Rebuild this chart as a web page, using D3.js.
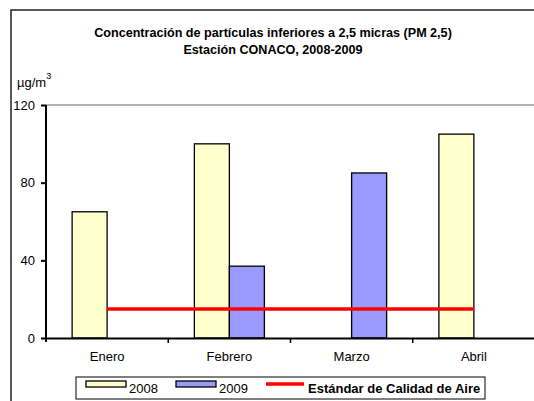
<!DOCTYPE html>
<html>
<head>
  <meta charset="utf-8">
  <script src="https://d3js.org/d3.v7.min.js"></script>
  <style>
    body { margin: 0; background: #fff; font-family: 'Liberation Sans', Arial, sans-serif; }
  </style>
</head>
<body>
  <div id="my_dataviz"></div>
  <script>
    // data
    var months = ["Enero", "Febrero", "Marzo", "Abril"];
    var series = ["2008", "2009"];
    var values2008 = [65, 100, null, 105];
    var values2009 = [null, 37, 85, null];
    var standard = [15, 15, 15, 15];
    var yTicks = [0, 40, 80, 120];
    var colors = { "2008": "#FFFFCC", "2009": "#9999FF" };

    var width = 534, height = 401;
    var plot = { left: 46, right: 535, top: 105, bottom: 338 };

    var svg = d3.select("#my_dataviz")
      .append("svg")
      .attr("width", width)
      .attr("height", height);

    // outer chart border
    svg.append("rect")
      .attr("x", 11).attr("y", 10)
      .attr("width", 600).attr("height", 500)
      .attr("fill", "none")
      .attr("stroke", "#222")
      .attr("stroke-width", 1.5);

    // title
    var title = svg.append("text")
      .attr("text-anchor", "middle")
      .style("font-weight", "bold")
      .style("font-size", "12.6px");
    title.append("tspan").attr("x", 273).attr("y", 37)
      .text("Concentración de partículas inferiores a 2,5 micras (PM 2,5)");
    title.append("tspan").attr("x", 273).attr("y", 54)
      .text("Estación CONACO, 2008-2009");

    // unit label
    var unit = svg.append("text")
      .attr("x", 17).attr("y", 87)
      .style("font-size", "13px");
    unit.append("tspan").text("µg/m");
    unit.append("tspan").attr("dy", -8).style("font-size", "9px").text("3");

    // scales
    var x0 = d3.scaleBand()
      .domain(months)
      .range([plot.left, plot.right]);
    var x1 = d3.scaleBand()
      .domain(series)
      .range([x0.bandwidth() / 2 - 35, x0.bandwidth() / 2 + 35]);
    var y = d3.scaleLinear()
      .domain([0, 120])
      .range([plot.bottom, plot.top]);

    // top gridline
    svg.append("line")
      .attr("x1", plot.left).attr("x2", width)
      .attr("y1", y(120)).attr("y2", y(120))
      .attr("stroke", "#999")
      .attr("stroke-width", 1.5);

    // bars
    var barData = [];
    months.forEach(function (m, i) {
      if (values2008[i] != null) barData.push({ month: m, s: "2008", v: values2008[i] });
      if (values2009[i] != null) barData.push({ month: m, s: "2009", v: values2009[i] });
    });
    svg.selectAll("mybar")
      .data(barData)
      .enter()
      .append("rect")
      .attr("x", function (d) { return x0(d.month) + x1(d.s); })
      .attr("y", function (d) { return y(d.v); })
      .attr("width", x1.bandwidth())
      .attr("height", function (d) { return y(0) - y(d.v); })
      .attr("fill", function (d) { return colors[d.s]; })
      .attr("stroke", "#000")
      .attr("stroke-width", 1.3);

    // standard line
    var line = d3.line()
      .x(function (d, i) { return x0(months[i]) + x0.bandwidth() / 2; })
      .y(function (d) { return y(d); });
    svg.append("path")
      .datum(standard)
      .attr("d", line)
      .attr("fill", "none")
      .attr("stroke", "#FF0000")
      .attr("stroke-width", 3.5);

    // Y axis
    var yAxis = svg.append("g")
      .attr("transform", "translate(" + plot.left + ",0)")
      .call(d3.axisLeft(y).tickValues(yTicks).tickSize(5).tickSizeOuter(0).tickPadding(6));
    yAxis.select(".domain").attr("stroke-width", 2).attr("d", "M0," + (plot.top) + "V" + (plot.bottom + 4));
    yAxis.selectAll(".tick line").attr("stroke-width", 2);
    yAxis.selectAll("text").style("font-size", "13px").style("font-family", "'Liberation Sans', Arial, sans-serif");

    // X axis
    var xAxis = svg.append("g")
      .attr("transform", "translate(0," + plot.bottom + ")")
      .call(d3.axisBottom(x0).tickSize(0).tickSizeOuter(0).tickPadding(14));
    xAxis.select(".domain").attr("stroke-width", 2);
    xAxis.selectAll("text").style("font-size", "13px").style("font-family", "'Liberation Sans', Arial, sans-serif");
    xAxis.selectAll("sep")
      .data(months.slice(1))
      .enter()
      .append("line")
      .attr("x1", function (d) { return x0(d); })
      .attr("x2", function (d) { return x0(d); })
      .attr("y1", 0).attr("y2", 5)
      .attr("stroke", "#000")
      .attr("stroke-width", 1.5);

    // legend
    var legend = svg.append("g");
    legend.append("rect")
      .attr("x", 76).attr("y", 377)
      .attr("width", 409).attr("height", 22)
      .attr("fill", "#fff")
      .attr("stroke", "#000")
      .attr("stroke-width", 1);
    var items = [
      { label: "2008", x: 86, type: "bar" },
      { label: "2009", x: 176, type: "bar" },
      { label: "Estándar de Calidad de Aire", x: 266, type: "line" }
    ];
    items.forEach(function (it) {
      if (it.type === "bar") {
        legend.append("rect")
          .attr("x", it.x).attr("y", 381)
          .attr("width", 40).attr("height", 6)
          .attr("fill", colors[it.label])
          .attr("stroke", "#000")
          .attr("stroke-width", 1.3);
      } else {
        legend.append("line")
          .attr("x1", it.x).attr("x2", it.x + 38)
          .attr("y1", 384).attr("y2", 384)
          .attr("stroke", "#FF0000")
          .attr("stroke-width", 3.5);
      }
      legend.append("text")
        .attr("x", it.x + (it.type === "bar" ? 43 : 42))
        .attr("y", 393)
        .style("font-size", "13px")
        .style("font-weight", it.type === "line" ? "bold" : "normal")
        .text(it.label);
    });
  </script>
</body>
</html>
